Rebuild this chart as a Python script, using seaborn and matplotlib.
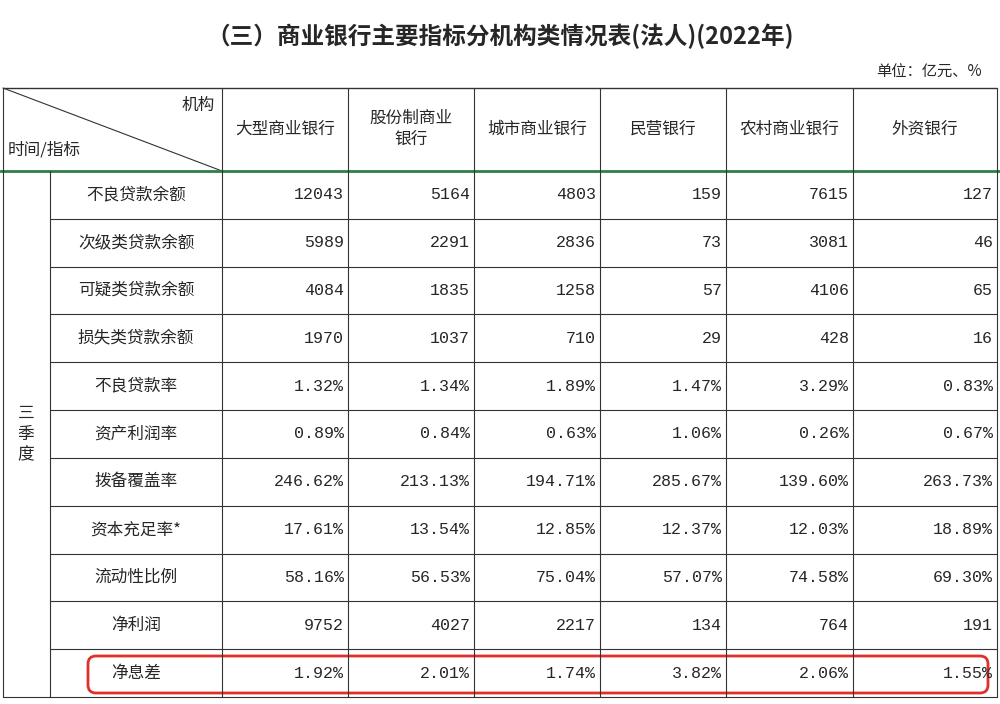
import matplotlib
matplotlib.use("Agg")
import matplotlib.pyplot as plt
import seaborn as sns
from matplotlib.patches import FancyBboxPatch

sns.set_theme(style="white", font="Noto Sans CJK SC")

title = "（三）商业银行主要指标分机构类情况表(法人)(2022年)"
unit = "单位：亿元、%"
institutions = ["大型商业银行", "股份制商业\n银行", "城市商业银行", "民营银行", "农村商业银行", "外资银行"]
indicators = ["不良贷款余额", "次级类贷款余额", "可疑类贷款余额", "损失类贷款余额", "不良贷款率",
              "资产利润率", "拨备覆盖率", "资本充足率*", "流动性比例", "净利润", "净息差"]
values = [
    ["12043", "5164", "4803", "159", "7615", "127"],
    ["5989", "2291", "2836", "73", "3081", "46"],
    ["4084", "1835", "1258", "57", "4106", "65"],
    ["1970", "1037", "710", "29", "428", "16"],
    ["1.32%", "1.34%", "1.89%", "1.47%", "3.29%", "0.83%"],
    ["0.89%", "0.84%", "0.63%", "1.06%", "0.26%", "0.67%"],
    ["246.62%", "213.13%", "194.71%", "285.67%", "139.60%", "263.73%"],
    ["17.61%", "13.54%", "12.85%", "12.37%", "12.03%", "18.89%"],
    ["58.16%", "56.53%", "75.04%", "57.07%", "74.58%", "69.30%"],
    ["9752", "4027", "2217", "134", "764", "191"],
    ["1.92%", "2.01%", "1.74%", "3.82%", "2.06%", "1.55%"],
]

W, H = 1000, 704
fig = plt.figure(figsize=(W / 100, H / 100), dpi=100)
ax = fig.add_axes([0, 0, 1, 1])
ax.set_xlim(0, W)
ax.set_ylim(H, 0)
ax.axis("off")

lc = "#333333"
cols = [3, 50, 222, 348, 474, 600, 726, 853, 997]
top, hbot = 88, 171
nrow = len(indicators)
rh = (697 - hbot) / nrow
rows = [hbot + i * rh for i in range(nrow + 1)]

ax.text(500, 36, title, ha="center", va="center", fontsize=17, fontweight="bold")
ax.text(982, 72, unit, ha="right", va="center", fontsize=11)

# header
ax.plot([cols[0], cols[-1]], [top, top], color=lc, lw=1)
ax.plot([cols[0], cols[2]], [top, hbot], color=lc, lw=0.8)
ax.text(215, 105, "机构", ha="right", va="center", fontsize=12)
ax.text(8, 150, "时间/指标", ha="left", va="center", fontsize=12)
for j, name in enumerate(institutions):
    ax.text((cols[j + 2] + cols[j + 3]) / 2, 129, name, ha="center", va="center", fontsize=12, linespacing=1.3)
ax.plot([0, W], [hbot, hbot], color="#2e7d4a", lw=2)

# grid lines
for x in cols[2:]:
    ax.plot([x, x], [top, 697], color=lc, lw=0.8)
ax.plot([cols[0], cols[0]], [top, 697], color=lc, lw=0.8)
ax.plot([cols[1], cols[1]], [hbot, 697], color=lc, lw=0.8)
for y in rows[1:]:
    ax.plot([cols[1], cols[-1]], [y, y], color=lc, lw=0.8)
ax.plot([cols[0], cols[1]], [697, 697], color=lc, lw=0.8)

ax.text(26, 434, "三\n季\n度", ha="center", va="center", fontsize=12, linespacing=1.3)

for i, ind in enumerate(indicators):
    yc = (rows[i] + rows[i + 1]) / 2
    ax.text((cols[1] + cols[2]) / 2, yc, ind, ha="center", va="center", fontsize=12)
    for j, v in enumerate(values[i]):
        ax.text(cols[j + 3] - 4, yc, v, ha="right", va="center", fontsize=12, family="Liberation Mono")

box = FancyBboxPatch((88, 656), 900, 37, boxstyle="round,pad=0,rounding_size=8",
                     fill=False, edgecolor="#e0302a", lw=2)
ax.add_patch(box)

fig.savefig("out.png", dpi=100)
